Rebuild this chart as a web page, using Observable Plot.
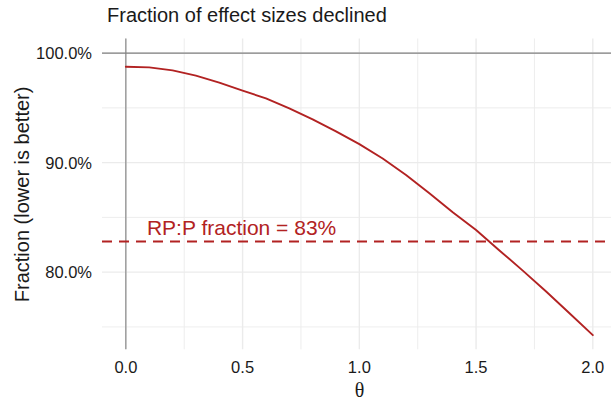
<!DOCTYPE html>
<html>
<head>
<meta charset="utf-8">
<script src="https://cdn.jsdelivr.net/npm/d3@7"></script>
<script src="https://cdn.jsdelivr.net/npm/@observablehq/plot@0.6"></script>
<style>
  html, body { margin: 0; padding: 0; background: #ffffff; }
  #chart { width: 611px; height: 400px; overflow: hidden; }
</style>
</head>
<body>
<div id="chart"></div>
<script>
// Shrinkage parameter θ and the fraction of effect sizes that decline
const theta = [0.0, 0.1, 0.2, 0.3, 0.4, 0.5, 0.6, 0.7, 0.8, 0.9, 1.0,
               1.1, 1.2, 1.3, 1.4, 1.5, 1.6, 1.7, 1.8, 1.9, 2.0];
const fraction = [0.9876, 0.9870, 0.9842, 0.9794, 0.9730, 0.9658, 0.9587,
                  0.9496, 0.9395, 0.9286, 0.9169, 0.9038, 0.8888, 0.8721,
                  0.8548, 0.8385, 0.8198, 0.8014, 0.7823, 0.7625, 0.7425];

// Reference level observed in the RP:P replication project
const rppFraction = 0.828;

// Axis ticks and grid positions
const xTicks = [0, 0.5, 1.0, 1.5, 2.0];
const xMinor = [0.25, 0.75, 1.25, 1.75];
const yTicks = [0.8, 0.9, 1.0];
const yMinor = [0.75, 0.85, 0.95];

const titleText = "Fraction of effect sizes declined";
const xLabel = "θ";
const yLabel = "Fraction (lower is better)";

const red = "#B22222";
const grid = "#ebebeb";
const axisGray = "#808080";
const ink = "#1a1a1a";

const curve = theta.map((t, i) => ({theta: t, fraction: fraction[i]}));

const chart = Plot.plot({
  width: 611,
  height: 400,
  marginLeft: 102,
  marginRight: 0,
  marginTop: 38.5,
  marginBottom: 50.7,
  style: {
    fontFamily: "'Liberation Sans', Arial, sans-serif",
    fontSize: "16.5px",
    background: "#ffffff",
    color: ink
  },
  x: {domain: [-0.1, 2.08]},
  y: {domain: [0.7291, 1.0129]},
  marks: [
    // panel grid
    Plot.ruleX(xMinor, {stroke: grid, strokeWidth: 0.9}),
    Plot.ruleY(yMinor, {stroke: grid, strokeWidth: 0.9}),
    Plot.ruleX(xTicks, {stroke: grid, strokeWidth: 1.4}),
    Plot.ruleY(yTicks, {stroke: grid, strokeWidth: 1.4}),
    // reference lines at θ = 0 and 100%
    Plot.ruleX([0], {stroke: axisGray, strokeWidth: 1.1}),
    Plot.ruleY([1.0], {stroke: axisGray, strokeWidth: 1.1}),
    // RP:P level
    Plot.ruleY([rppFraction], {stroke: red, strokeWidth: 2, strokeDasharray: "10,7"}),
    Plot.text([rppFraction], {
      x: 0.5, y: d => d,
      text: d => `RP:P fraction = ${d3.format(".0%")(d)}`,
      textAnchor: "middle", lineAnchor: "bottom",
      dx: -1, dy: -6.7,
      fill: red, fontSize: 21
    }),
    // fraction declined as a function of θ
    Plot.line(curve, {x: "theta", y: "fraction", stroke: red, strokeWidth: 1.9}),
    // axes
    Plot.axisX({
      ticks: xTicks, tickFormat: d3.format(".1f"),
      tickSize: 0, tickPadding: 11, label: null, fill: ink
    }),
    Plot.axisY({
      ticks: yTicks, tickFormat: d3.format(".1%"),
      tickSize: 0, tickPadding: 10.5, dy: 1, label: null, fill: ink
    }),
    // titles
    Plot.text([titleText], {
      frameAnchor: "top-left", textAnchor: "start", lineAnchor: "bottom",
      dx: 4.5, dy: -16.8, fontSize: 20, fill: ink
    }),
    Plot.text([yLabel], {
      frameAnchor: "left", rotate: -90, textAnchor: "middle", lineAnchor: "bottom",
      dx: -73.5, fontSize: 20, fill: ink
    }),
    Plot.text([xLabel], {
      frameAnchor: "bottom", textAnchor: "middle", lineAnchor: "bottom",
      dx: 2.5, dy: 46.7, fontSize: 20, fill: ink,
      fontFamily: "'Liberation Serif', 'DejaVu Serif', serif"
    })
  ]
});

document.getElementById("chart").append(chart);
</script>
</body>
</html>
